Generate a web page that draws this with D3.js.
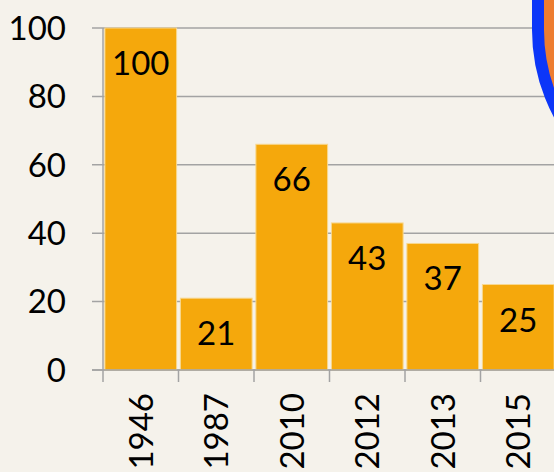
<!DOCTYPE html>
<html>
<head>
<meta charset="utf-8">
<script src="https://cdn.jsdelivr.net/npm/d3@7"></script>
<style>
  html, body { margin: 0; padding: 0; background: #f5f2eb; }
  svg { display: block; }
  text { font-family: Lato, "Liberation Sans", sans-serif; fill: #000; }
</style>
</head>
<body>
<script>

var years = ["1946", "1987", "2010", "2012", "2013", "2015"];
var values = [100, 21, 66, 43, 37, 25];
var yTicks = [0, 20, 40, 60, 80, 100];

var width = 554,
    height = 472,
    plotLeft = 103,
    plotTop = 28,
    plotBottom = 370,
    plotRight = 556,
    fontSize = "33px";

var svg = d3.select("body")
  .append("svg")
  .attr("width", width)
  .attr("height", height);

var x = d3.scaleBand()
  .domain(years)
  .range([plotLeft, plotRight])
  .paddingInner(0.05)
  .paddingOuter(0.025);

var y = d3.scaleLinear()
  .domain([0, 100])
  .range([plotBottom, plotTop]);

// gridlines + y ticks
svg.selectAll(".grid")
  .data(yTicks)
  .enter()
  .append("line")
  .attr("x1", plotLeft - 11)
  .attr("x2", width)
  .attr("y1", function (d) { return y(d); })
  .attr("y2", function (d) { return y(d); })
  .style("stroke", "#a3a3a3")
  .style("stroke-width", 1.5);

// y axis line
svg.append("line")
  .attr("x1", plotLeft)
  .attr("x2", plotLeft)
  .attr("y1", y(100))
  .attr("y2", plotBottom + 12)
  .style("stroke", "#a3a3a3")
  .style("stroke-width", 1.5);

svg.selectAll(".ylab")
  .data(yTicks)
  .enter()
  .append("text")
  .attr("x", 66)
  .attr("y", function (d) { return y(d); })
  .attr("dy", "0.36em")
  .attr("text-anchor", "end")
  .style("font-size", fontSize)
  .text(function (d) { return d; });

// x ticks at band edges
svg.selectAll(".xtick")
  .data(years)
  .enter()
  .append("line")
  .attr("x1", function (d) { return x(d) - x.step() * x.paddingInner() / 2 + x.step(); })
  .attr("x2", function (d) { return x(d) - x.step() * x.paddingInner() / 2 + x.step(); })
  .attr("y1", plotBottom)
  .attr("y2", plotBottom + 12)
  .style("stroke", "#a3a3a3")
  .style("stroke-width", 1.5);

// bars
var bars = svg.selectAll(".bar")
  .data(years)
  .enter()
  .append("g");

bars.append("rect")
  .attr("x", function (d) { return x(d); })
  .attr("y", function (d, i) { return y(values[i]); })
  .attr("width", x.bandwidth())
  .attr("height", function (d, i) { return plotBottom - y(values[i]); })
  .style("fill", "#f5a80c")
  .style("stroke", "#f8d890")
  .style("stroke-width", 1);

bars.append("text")
  .attr("x", function (d) { return x(d) + x.bandwidth() / 2; })
  .attr("y", function (d, i) { return y(values[i]) + 47; })
  .attr("text-anchor", "middle")
  .style("font-size", fontSize)
  .text(function (d, i) { return values[i]; });

// x labels, rotated
svg.selectAll(".xlab")
  .data(years)
  .enter()
  .append("text")
  .attr("transform", function (d) {
    return "translate(" + (x(d) + x.bandwidth() / 2) + "," + 393 + ") rotate(-90)";
  })
  .attr("dy", "0.36em")
  .attr("text-anchor", "end")
  .style("font-size", fontSize)
  .text(function (d) { return d; });

// x axis line
svg.append("line")
  .attr("x1", plotLeft - 11)
  .attr("x2", width)
  .attr("y1", plotBottom)
  .attr("y2", plotBottom)
  .style("stroke", "#a3a3a3")
  .style("stroke-width", 1.5);

// shape cut off at top right
svg.append("rect")
  .attr("x", 538)
  .attr("y", -400)
  .attr("width", 400)
  .attr("height", 609)
  .attr("rx", 179)
  .style("fill", "#ed7d31")
  .style("stroke", "#0c36f8")
  .style("stroke-width", 12);

</script>
</body>
</html>
